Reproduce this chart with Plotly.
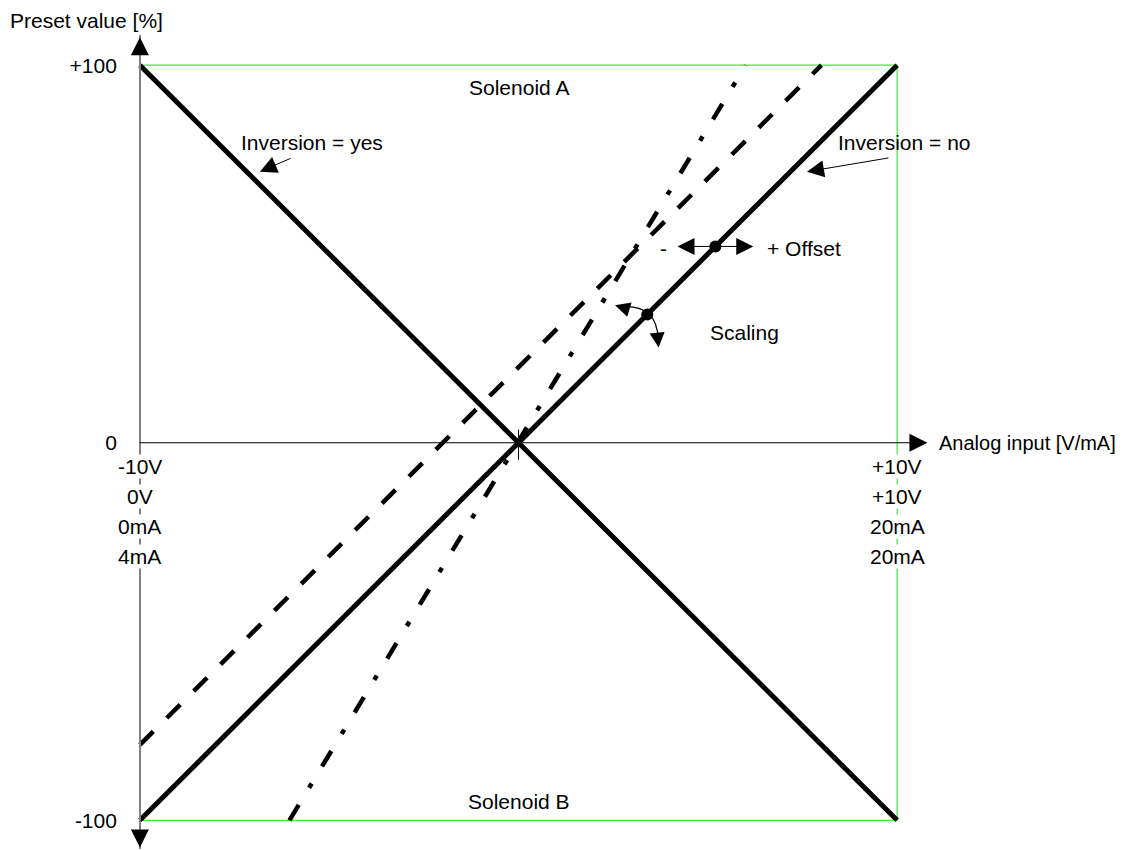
import plotly.graph_objects as go

# analog input span and the four characteristic lines
x_span = [-10, 10]
inv_no_y = [-100, 100]
inv_yes_y = [100, -100]
offset_x = [-10, 8]
offset_y = [-80, 100]
scaling_x = [-6.05, 6.0]
scaling_y = [-100, 100]

# adjustment points (offset, scaling)
dots_x = [5.2, 3.4]
dots_y = [52, 34]

# axis labelling
y_tick_vals = [100, 0, -100]
y_tick_text = ["+100", "0", "-100"]
x_tick_left = ["-10V", "0V", "0mA", "4mA"]
x_tick_right = ["+10V", "+10V", "20mA", "20mA"]

FONT = "Liberation Sans, Arial, sans-serif"
FS = 21
GREEN = "rgb(70,230,70)"

fig = go.Figure()

fig.add_trace(go.Scatter(x=x_span, y=inv_no_y, mode="lines",
                         line=dict(color="black", width=5), hoverinfo="skip"))
fig.add_trace(go.Scatter(x=x_span, y=inv_yes_y, mode="lines",
                         line=dict(color="black", width=5), hoverinfo="skip"))
fig.add_trace(go.Scatter(x=offset_x, y=offset_y, mode="lines",
                         line=dict(color="black", width=4.5, dash="19px,19px"), hoverinfo="skip"))
fig.add_trace(go.Scatter(x=scaling_x, y=scaling_y, mode="lines",
                         line=dict(color="black", width=4.5, dash="18px,20px,5px,20px"), hoverinfo="skip"))
fig.add_trace(go.Scatter(x=dots_x, y=dots_y, mode="markers",
                         marker=dict(color="black", size=12), hoverinfo="skip"))

shapes = [
    # solenoid box
    dict(type="rect", x0=-10, x1=10, y0=-100, y1=100, line=dict(color=GREEN, width=1.2), layer="below"),
    # x axis
    dict(type="line", x0=-10, x1=10.6, y0=0, y1=0, line=dict(color="black", width=1.2)),
    # small tick at origin
    dict(type="line", x0=0, x1=0, y0=3.5, y1=-4.5, line=dict(color="black", width=1)),
    # scaling curve
    dict(type="path", path="M 2.72,36.0 Q 3.65,36.7 3.69,27.5",
         line=dict(color="black", width=1.2)),
]

ann = []
def txt(x, y, s, **kw):
    d = dict(x=x, y=y, text=s, showarrow=False, font=dict(family=FONT, size=FS, color="black"))
    d.update(kw)
    ann.append(d)

def arrow(x, y, ax, ay, data_tail=False, size=3.0, width=1.0):
    d = dict(x=x, y=y, ax=ax, ay=ay, text="", showarrow=True, arrowhead=2,
             arrowsize=size, arrowwidth=width, arrowcolor="black")
    if data_tail:
        d.update(axref="x", ayref="y")
    ann.append(d)

txt(0, 94, "Solenoid A")
txt(0, -95, "Solenoid B")
txt(-5.46, 79.5, "Inversion = yes")
txt(10.2, 79.5, "Inversion = no")
txt(5.98, 29.1, "Scaling")
txt(3.82, 51.5, "-")
txt(7.54, 51.5, "+ Offset")
txt(10, 0, "Analog input [V/mA]", xanchor="left", xshift=40,
    font=dict(family=FONT, size=20, color="black"))
ann.append(dict(x=-10, y=1, xref="x", yref="paper", text="Preset value [%]", showarrow=False,
                xanchor="right", yanchor="middle", xshift=25, yshift=15,
                font=dict(family=FONT, size=FS, color="black")))

for i, (a, b) in enumerate(zip(x_tick_left, x_tick_right)):
    txt(-10, 0, a, yshift=-24 - 30 * i, bgcolor="white", borderpad=0)
    txt(10, 0, b, yshift=-24 - 30 * i, bgcolor="white", borderpad=0)

# axis arrowheads
arrow(-10, 107.4, 0, 14, width=1.2, size=3)
arrow(-10, -107.2, 0, -14, width=1.2, size=3)
arrow(10.8, 0, -14, 0, width=1.2, size=3)
# label pointers
arrow(-6.83, 71.8, -5.98, 75.5, data_tail=True, size=3.4)
arrow(7.62, 71.8, 9.81, 75.5, data_tail=True, size=3.4)
# offset arrows
arrow(4.2, 52, 5.2, 52, data_tail=True, size=3.4)
arrow(6.2, 52, 5.2, 52, data_tail=True, size=3.4)
# scaling arrowheads
arrow(2.55, 36.4, 10, 3, size=3)
arrow(3.7, 25.2, -1, -10, size=3)

fig.update_layout(
    width=1117, height=842,
    margin=dict(l=94, r=190, t=27, b=1, autoexpand=False),
    paper_bgcolor="white", plot_bgcolor="white",
    showlegend=False,
    shapes=shapes, annotations=ann,
    font=dict(family=FONT, size=FS, color="black"),
    xaxis=dict(range=[-11, 11], showgrid=False, zeroline=False, showticklabels=False,
               showline=False, fixedrange=True),
    yaxis=dict(range=[-107.6, 108], anchor="free", position=1 / 22, showgrid=False,
               zeroline=False, showline=True, linecolor="grey", linewidth=1.5,
               tickvals=y_tick_vals, ticktext=y_tick_text, ticks="",
               ticklabelstandoff=18, automargin=False, fixedrange=True),
)

fig.write_html("out.html")
